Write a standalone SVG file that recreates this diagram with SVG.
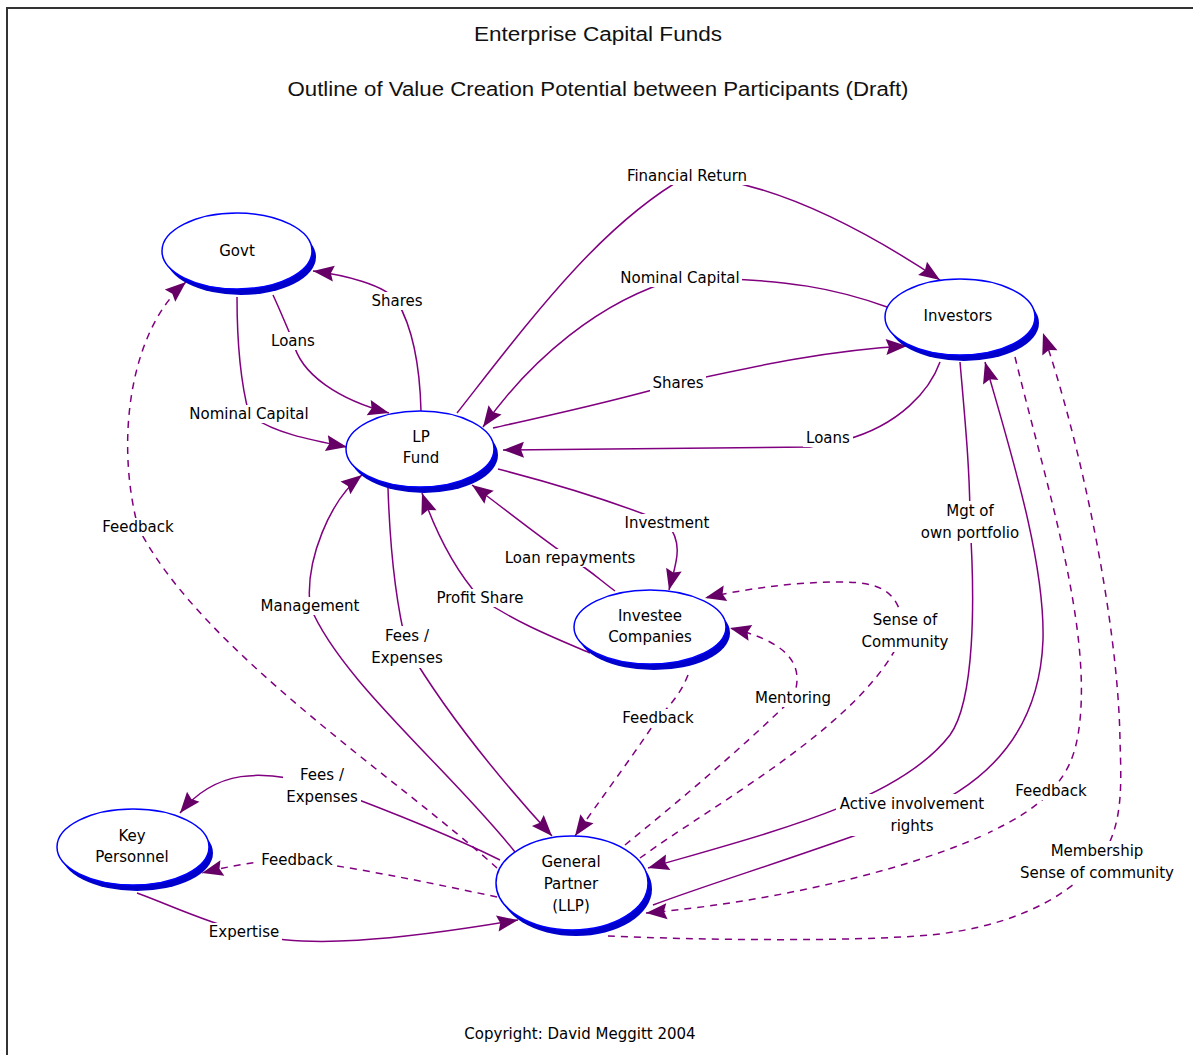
<svg xmlns="http://www.w3.org/2000/svg" width="1193" height="1055" viewBox="0 0 1193 1055">
<style>
.c{fill:none;stroke:#800080;stroke-width:1.5}
.d{fill:none;stroke:#800080;stroke-width:1.5;stroke-dasharray:7 6}
.a{marker-end:url(#ah)}
.t{font-family:"DejaVu Sans","Liberation Sans",sans-serif;font-size:15px;fill:#000;text-anchor:middle}
.ttl{font-family:"Liberation Sans",Arial,sans-serif;font-size:20px;fill:#111;text-anchor:middle}
.bg{fill:#fff}
.sh{fill:#0000cc}
.el{fill:#fff;stroke:#0000ff;stroke-width:1.5}
</style>
<defs>
<marker id="ah" markerUnits="userSpaceOnUse" markerWidth="22" markerHeight="16" refX="21" refY="8" orient="auto" overflow="visible">
<path d="M0,0 L21,8 L0,16 L3,8 z" fill="#660066"/>
</marker>
</defs>
<rect width="1193" height="1055" fill="#fff"/>
<path d="M7,1055 V8 H1193" fill="none" stroke="#333" stroke-width="2"/>
<text class="ttl" x="598" y="41" textLength="248" lengthAdjust="spacingAndGlyphs">Enterprise Capital Funds</text>
<text class="ttl" x="598" y="96" textLength="621" lengthAdjust="spacingAndGlyphs">Outline of Value Creation Potential between Participants (Draft)</text>
<text class="t" x="580" y="1039">Copyright: David Meggitt 2004</text>

<g id="connectors">
<path id="e-shares-govt" class="c a" d="M421,411 C420,370 414,330 397,301 C385,285 345,275 313,271"/>
<path id="e-loans-govt" class="c a" d="M273,295 C280,310 286,325 293,341 C300,375 340,400 389,413"/>
<path id="e-nomcap-govt" class="c a" d="M237,297 C237,340 240,380 249,414 C270,432 310,440 347,447"/>
<path id="e-finret" class="c a" d="M457,413 C530,320 600,225 687,176 C780,180 880,240 940,280"/>
<path id="e-nomcap-inv" class="c a" d="M887,307 C840,290 790,278 680,278 C600,300 530,360 483,427"/>
<path id="e-shares-inv" class="c a" d="M493,428 C550,415 600,405 678,383 C760,365 830,350 907,346"/>
<path id="e-loans-inv" class="c a" d="M940,362 C930,390 900,425 845,440 L810,447 L503,450"/>
<path id="e-investment" class="c a" d="M498,469 C560,485 610,500 667,523 C685,545 675,565 669,590"/>
<path id="e-loanrep" class="c a" d="M615,591 C600,580 590,570 570,558 C530,530 500,505 472,485"/>
<path id="e-profit" class="c a" d="M590,653 C560,640 520,625 480,598 C455,570 435,530 422,493"/>
<path id="e-fees-lp" class="c a" d="M388,488 C390,550 395,600 407,647 C450,720 510,790 552,836"/>
<path id="e-mgmt" class="c a" d="M515,852 C450,770 340,680 310,606 C305,560 330,500 362,475"/>
<path id="e-fb-govt" class="d a" d="M497,868 C400,780 200,650 138,527 C115,440 130,330 186,282"/>
<path id="e-fees-kp" class="c a" d="M500,860 C460,840 400,815 322,786 C260,768 215,770 180,813"/>
<path id="e-fb-kp" class="d a" d="M497,897 C440,885 370,870 297,860 C260,860 230,866 202,873"/>
<path id="e-expertise" class="c a" d="M137,893 C170,905 200,920 244,932 C300,950 400,940 518,920"/>
<path id="e-fb-ic" class="d a" d="M688,675 C680,695 670,705 658,718 C630,760 600,800 575,836"/>
<path id="e-mentoring" class="d a" d="M625,845 C680,800 740,750 793,698 C808,660 780,640 730,628"/>
<path id="e-soc" class="d a" d="M640,858 C720,800 870,720 904,631 C900,590 880,582 840,582 C790,582 740,590 705,598"/>
<path id="e-mgt-own" class="c a" d="M960,362 C965,420 970,470 970,522 C975,600 975,700 950,735 C900,800 780,830 648,868"/>
<path id="e-active" class="c a" d="M653,905 C720,880 790,860 912,815 C1000,780 1040,720 1043,640 C1045,560 1010,450 985,362"/>
<path id="e-fb-inv" class="d a" d="M1015,357 C1045,480 1090,620 1080,720 C1076,760 1065,775 1051,791 C1000,850 800,900 646,913"/>
<path id="e-membership" class="d a" d="M608,936 C700,940 850,942 930,935 C1000,928 1060,905 1097,862 C1125,830 1121,780 1120,740 C1118,620 1080,440 1043,333"/>

<g id="labels">
<rect class="bg" x="369" y="292" width="56" height="18"/><text class="t" x="397" y="306">Shares</text>
<rect class="bg" x="268" y="332" width="50" height="18"/><text class="t" x="293" y="346">Loans</text>
<rect class="bg" x="187" y="405" width="124" height="18"/><text class="t" x="249" y="419">Nominal Capital</text>
<rect class="bg" x="623" y="167" width="128" height="18"/><text class="t" x="687" y="181">Financial Return</text>
<rect class="bg" x="618" y="269" width="124" height="18"/><text class="t" x="680" y="283">Nominal Capital</text>
<rect class="bg" x="650" y="374" width="56" height="18"/><text class="t" x="678" y="388">Shares</text>
<rect class="bg" x="803" y="429" width="50" height="18"/><text class="t" x="828" y="443">Loans</text>
<rect class="bg" x="621" y="514" width="92" height="18"/><text class="t" x="667" y="528">Investment</text>
<rect class="bg" x="502" y="549" width="136" height="18"/><text class="t" x="570" y="563">Loan repayments</text>
<rect class="bg" x="432" y="589" width="96" height="18"/><text class="t" x="480" y="603">Profit Share</text>
<rect class="bg" x="367" y="626" width="80" height="42"/><text class="t" x="407" y="641">Fees /</text><text class="t" x="407" y="663">Expenses</text>
<rect class="bg" x="259" y="597" width="102" height="18"/><text class="t" x="310" y="611">Management</text>
<rect class="bg" x="98" y="518" width="80" height="18"/><text class="t" x="138" y="532">Feedback</text>
<rect class="bg" x="283" y="765" width="78" height="42"/><text class="t" x="322" y="780">Fees /</text><text class="t" x="322" y="802">Expenses</text>
<rect class="bg" x="258" y="851" width="78" height="18"/><text class="t" x="297" y="865">Feedback</text>
<rect class="bg" x="206" y="923" width="76" height="18"/><text class="t" x="244" y="937">Expertise</text>
<rect class="bg" x="619" y="709" width="78" height="18"/><text class="t" x="658" y="723">Feedback</text>
<rect class="bg" x="754" y="689" width="80" height="18"/><text class="t" x="793" y="703">Mentoring</text>
<rect class="bg" x="859" y="610" width="92" height="42"/><text class="t" x="905" y="625">Sense of</text><text class="t" x="905" y="647">Community</text>
<rect class="bg" x="919" y="501" width="102" height="42"/><text class="t" x="970" y="516">Mgt of</text><text class="t" x="970" y="538">own portfolio</text>
<rect class="bg" x="836" y="794" width="152" height="42"/><text class="t" x="912" y="809">Active involvement</text><text class="t" x="912" y="831">rights</text>
<rect class="bg" x="1012" y="782" width="78" height="18"/><text class="t" x="1051" y="796">Feedback</text>
<rect class="bg" x="1015" y="841" width="164" height="42"/><text class="t" x="1097" y="856">Membership</text><text class="t" x="1097" y="878">Sense of community</text>
</g>
</g>

<g id="node-govt">
<ellipse class="sh" cx="241" cy="257" rx="75" ry="38"/>
<ellipse class="el" cx="237" cy="251" rx="75" ry="38"/>
<text class="t" x="237" y="256">Govt</text>
</g>
<g id="node-lpfund">
<ellipse class="sh" cx="424" cy="455" rx="74" ry="38"/>
<ellipse class="el" cx="420" cy="449" rx="74" ry="38"/>
<text class="t" x="421" y="442">LP</text>
<text class="t" x="421" y="463">Fund</text>
</g>
<g id="node-investors">
<ellipse class="sh" cx="964" cy="323" rx="75" ry="38"/>
<ellipse class="el" cx="960" cy="317" rx="75" ry="38"/>
<text class="t" x="958" y="321">Investors</text>
</g>
<g id="node-investee">
<ellipse class="sh" cx="654" cy="633" rx="76" ry="37"/>
<ellipse class="el" cx="650" cy="627" rx="76" ry="37"/>
<text class="t" x="650" y="621">Investee</text>
<text class="t" x="650" y="642">Companies</text>
</g>
<g id="node-keypersonnel">
<ellipse class="sh" cx="137" cy="853" rx="76" ry="38"/>
<ellipse class="el" cx="133" cy="847" rx="76" ry="38"/>
<text class="t" x="132" y="841">Key</text>
<text class="t" x="132" y="862">Personnel</text>
</g>
<g id="node-gp">
<ellipse class="sh" cx="576" cy="889" rx="76" ry="47"/>
<ellipse class="el" cx="572" cy="883" rx="76" ry="47"/>
<text class="t" x="571" y="867">General</text>
<text class="t" x="571" y="889">Partner</text>
<text class="t" x="571" y="911">(LLP)</text>
</g>
</svg>
